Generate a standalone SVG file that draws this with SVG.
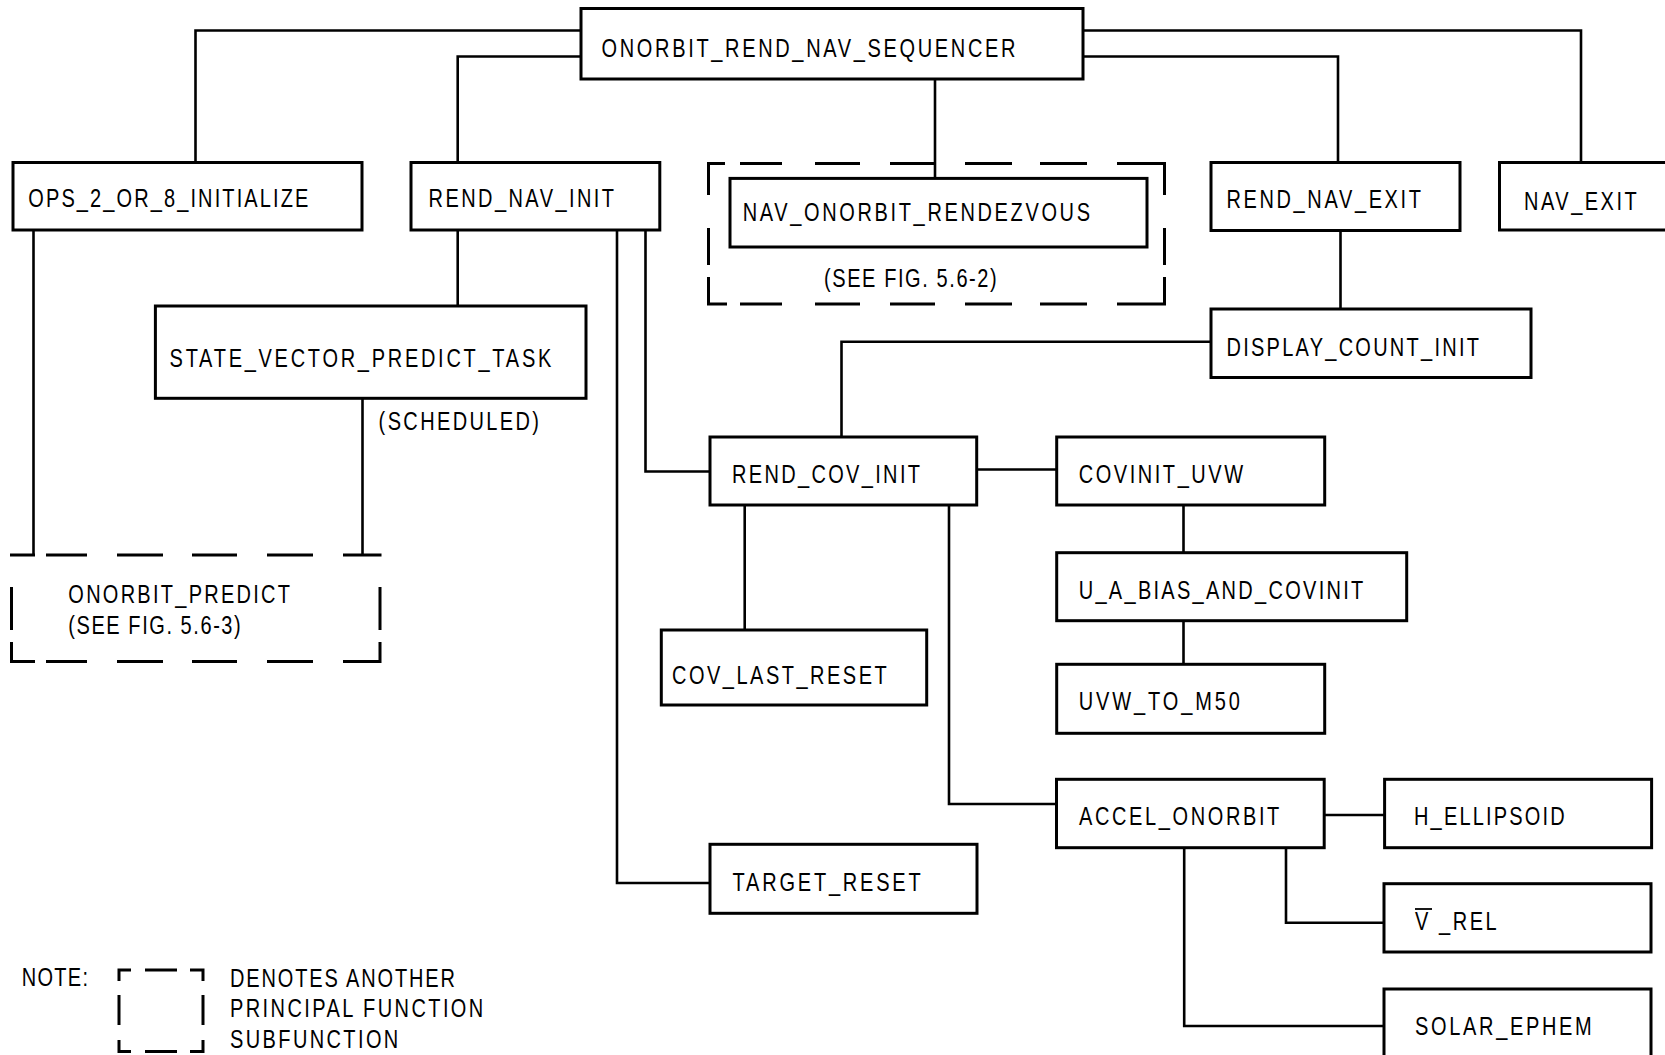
<svg xmlns="http://www.w3.org/2000/svg" width="1665" height="1055" viewBox="0 0 1665 1055">
<style>
  .box { fill: #ffffff; stroke: #000000; stroke-width: 3; }
  .dash { fill: none; stroke: #000000; stroke-width: 3; }
  .conn { fill: none; stroke: #000000; stroke-width: 2.6; }
  text { font-family: "Liberation Sans", Arial, sans-serif; font-size: 25px; fill: #000000; }
</style>
<rect x="0" y="0" width="1665" height="1055" fill="#ffffff"/>

<g id="connectors">
  <path class="conn" d="M581,30.5 H195.5 V162.5"/>
  <path class="conn" d="M581,56.5 H457.7 V162.5"/>
  <path class="conn" d="M935,78.6 V178.4"/>
  <path class="conn" d="M1083,56.5 H1338 V162.5"/>
  <path class="conn" d="M1083,30.5 H1581 V162.5"/>
  <path class="conn" d="M1340.5,230 V309"/>
  <path class="conn" d="M1211,341.7 H841.5 V437"/>
  <path class="conn" d="M457.7,230 V306"/>
  <path class="conn" d="M362.5,398 V555"/>
  <path class="conn" d="M33.5,230 V555"/>
  <path class="conn" d="M645.5,230 V471.5 H710"/>
  <path class="conn" d="M617,230 V883 H710"/>
  <path class="conn" d="M977,469.5 H1056.7"/>
  <path class="conn" d="M1183.5,505 V552.7"/>
  <path class="conn" d="M1183.5,620.7 V664.3"/>
  <path class="conn" d="M744.7,505 V630"/>
  <path class="conn" d="M949,505 V804 H1056.5"/>
  <path class="conn" d="M1324.2,815 H1384.6"/>
  <path class="conn" d="M1286,847.7 V922.7 H1384"/>
  <path class="conn" d="M1184.2,847.7 V1026 H1384"/>
</g>

<g id="onorbit_rend_nav_sequencer">
  <rect class="box" x="581" y="8.5" width="502" height="70.5"/>
  <text transform="scale(0.8,1)" x="751.9" y="57" textLength="517.5" lengthAdjust="spacing">ONORBIT_REND_NAV_SEQUENCER</text>
</g>

<g id="ops_2_or_8_initialize">
  <rect class="box" x="13" y="162.5" width="349" height="67.5"/>
  <text transform="scale(0.8,1)" x="35.4" y="207" textLength="350" lengthAdjust="spacing">OPS_2_OR_8_INITIALIZE</text>
</g>

<g id="rend_nav_init">
  <rect class="box" x="411" y="162.5" width="248.8" height="67.5"/>
  <text transform="scale(0.8,1)" x="535.75" y="207" textLength="231.75" lengthAdjust="spacing">REND_NAV_INIT</text>
</g>

<g id="nav_onorbit_rendezvous_group">
  <path class="dash" d="M708.5,195 V163.5 H725 M740,163.5 H782 M815,163.5 H860 M890,163.5 H935 M965,163.5 H1012 M1040,163.5 H1087 M1117,163.5 H1164.5 V195 M708.5,228 V265 M1164.5,228 V265 M708.5,277 V304 H727 M740,304 H782 M815,304 H860 M890,304 H935 M965,304 H1012 M1040,304 H1087 M1117,304 H1164.5 V277"/>
  <text transform="scale(0.8,1)" x="1030" y="287.5" textLength="215.9" lengthAdjust="spacing">(SEE FIG. 5.6-2)</text>
</g>

<g id="nav_onorbit_rendezvous">
  <rect class="box" x="730" y="178.4" width="417" height="68.6"/>
  <text transform="scale(0.8,1)" x="928.4" y="221.5" textLength="434.1" lengthAdjust="spacing">NAV_ONORBIT_RENDEZVOUS</text>
</g>

<g id="rend_nav_exit">
  <rect class="box" x="1211" y="162.5" width="249" height="68"/>
  <text transform="scale(0.8,1)" x="1533.1" y="208.5" textLength="243.1" lengthAdjust="spacing">REND_NAV_EXIT</text>
</g>

<g id="nav_exit">
  <rect class="box" x="1499.5" y="162.5" width="200" height="67.5"/>
  <text transform="scale(0.8,1)" x="1905" y="210" textLength="140.9" lengthAdjust="spacing">NAV_EXIT</text>
</g>

<g id="display_count_init">
  <rect class="box" x="1211" y="309" width="320" height="68.5"/>
  <text transform="scale(0.8,1)" x="1533.1" y="356" textLength="315.6" lengthAdjust="spacing">DISPLAY_COUNT_INIT</text>
</g>

<g id="state_vector_predict_task">
  <rect class="box" x="155.4" y="306" width="430.6" height="92.3"/>
  <text transform="scale(0.8,1)" x="212" y="367" textLength="477.1" lengthAdjust="spacing">STATE_VECTOR_PREDICT_TASK</text>
</g>

<g id="scheduled_label">
  <text transform="scale(0.8,1)" x="473.25" y="430" textLength="200.5" lengthAdjust="spacing">(SCHEDULED)</text>
</g>

<g id="onorbit_predict">
  <path class="dash" d="M10,555 H35 M46,555 H87 M117,555 H163 M192,555 H237 M267,555 H313 M343,555 H381.5 M11.5,587 V630 M380,587 V630 M11.5,642 V661.5 H35 M46,661.5 H87 M117,661.5 H163 M192,661.5 H237 M267,661.5 H313 M343,661.5 H380 V642"/>
  <text transform="scale(0.8,1)" x="85.4" y="603" textLength="277.1" lengthAdjust="spacing">ONORBIT_PREDICT</text>
  <text transform="scale(0.8,1)" x="85.4" y="634.5" textLength="215.5" lengthAdjust="spacing">(SEE FIG. 5.6-3)</text>
</g>

<g id="rend_cov_init">
  <rect class="box" x="710" y="437" width="266.7" height="68"/>
  <text transform="scale(0.8,1)" x="915" y="483.5" textLength="235" lengthAdjust="spacing">REND_COV_INIT</text>
</g>

<g id="covinit_uvw">
  <rect class="box" x="1056.7" y="437" width="268" height="68"/>
  <text transform="scale(0.8,1)" x="1348.4" y="483.5" textLength="205.4" lengthAdjust="spacing">COVINIT_UVW</text>
</g>

<g id="u_a_bias_and_covinit">
  <rect class="box" x="1056.7" y="552.7" width="350" height="68"/>
  <text transform="scale(0.8,1)" x="1348.4" y="599" textLength="355.75" lengthAdjust="spacing">U_A_BIAS_AND_COVINIT</text>
</g>

<g id="uvw_to_m50">
  <rect class="box" x="1056.7" y="664.3" width="268" height="69"/>
  <text transform="scale(0.8,1)" x="1348.4" y="710.5" textLength="201.6" lengthAdjust="spacing">UVW_TO_M50</text>
</g>

<g id="cov_last_reset">
  <rect class="box" x="661.3" y="630" width="265.4" height="75"/>
  <text transform="scale(0.8,1)" x="840" y="684" textLength="268.4" lengthAdjust="spacing">COV_LAST_RESET</text>
</g>

<g id="target_reset">
  <rect class="box" x="710" y="844.3" width="267" height="69"/>
  <text transform="scale(0.8,1)" x="915.6" y="891" textLength="235.25" lengthAdjust="spacing">TARGET_RESET</text>
</g>

<g id="accel_onorbit">
  <rect class="box" x="1056.5" y="779.3" width="267.7" height="68.4"/>
  <text transform="scale(0.8,1)" x="1348.75" y="825" textLength="250.4" lengthAdjust="spacing">ACCEL_ONORBIT</text>
</g>

<g id="h_ellipsoid">
  <rect class="box" x="1384.6" y="779.3" width="267" height="68.4"/>
  <text transform="scale(0.8,1)" x="1767.5" y="825" textLength="188.4" lengthAdjust="spacing">H_ELLIPSOID</text>
</g>

<g id="v_rel">
  <rect class="box" x="1384" y="883.7" width="267" height="68.3"/>
  <text transform="scale(0.8,1)" x="1768.75" y="930" textLength="102.1" lengthAdjust="spacing">V _REL</text>
  <line x1="1415" y1="909" x2="1432" y2="909" stroke="#000000" stroke-width="1.8"/>
</g>

<g id="solar_ephem">
  <rect class="box" x="1384" y="989" width="267" height="90"/>
  <text transform="scale(0.8,1)" x="1768.75" y="1035" textLength="220.9" lengthAdjust="spacing">SOLAR_EPHEM</text>
</g>

<g id="legend">
  <text transform="scale(0.8,1)" x="27.1" y="986.5" textLength="82.9" lengthAdjust="spacing">NOTE:</text>
  <path class="dash" d="M119,981 V970 H131 M145,970 H177 M190,970 H203 V981 M119,995 V1025 M203,995 V1025 M119,1040 V1051.5 H131 M145,1051.5 H177 M190,1051.5 H203 V1040"/>
  <text transform="scale(0.8,1)" x="287.5" y="987" textLength="281.25" lengthAdjust="spacing">DENOTES ANOTHER</text>
  <text transform="scale(0.8,1)" x="287.5" y="1017.5" textLength="316.6" lengthAdjust="spacing">PRINCIPAL FUNCTION</text>
  <text transform="scale(0.8,1)" x="287.5" y="1048" textLength="210.4" lengthAdjust="spacing">SUBFUNCTION</text>
</g>
</svg>
